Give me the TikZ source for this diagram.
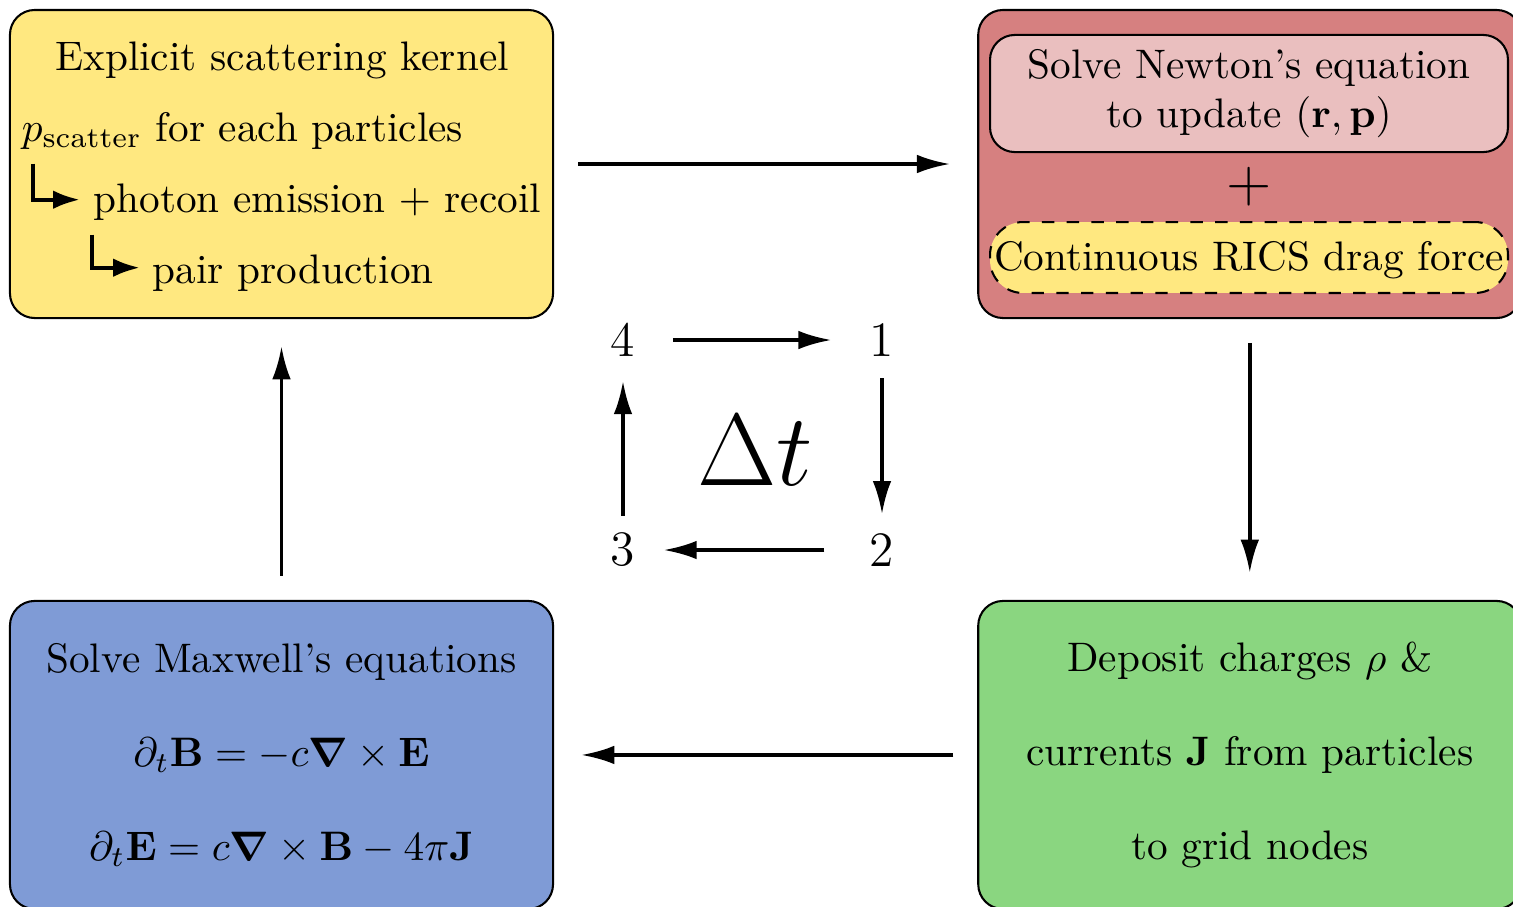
\documentclass[tikz,border=0pt]{standalone}
\usepackage{amsmath,amssymb}
\usepackage{tikz}
\usetikzlibrary{arrows.meta, positioning, calc}

\definecolor{kernelyellow}{RGB}{255,232,128}
\definecolor{pushred}{RGB}{214,128,128}
\definecolor{pushpink}{RGB}{234,191,191}
\definecolor{fieldblue}{RGB}{127,155,214}
\definecolor{depositgreen}{RGB}{138,214,128}

\tikzset{
  stage/.style={draw, line width=0.5pt, rounded corners=6pt, minimum width=131.7pt, minimum height=74.7pt, inner sep=0pt, align=center},
  subbox/.style={draw, line width=0.5pt, rounded corners=6pt, minimum width=125.6pt, inner sep=0pt, align=center},
  kerneltext/.style={inner sep=0pt},
  flow/.style={-{Latex[length=8pt,width=4.5pt]}, line width=0.85pt},
  branch/.style={-{Latex[length=6.5pt,width=4.5pt]}, line width=1pt},
}

\begin{document}
\begin{tikzpicture}[x=0.2425pt, y=-0.2425pt]
\useasboundingbox (0,0) rectangle (1513,906);

% four stages of one step
\node[stage, fill=kernelyellow] (kernel) at (281.5,164) {};
\node[stage, fill=pushred, right=102.6pt of kernel] (push) {};
\node[stage, fill=depositgreen, below=68.1pt of push] (deposit) {Deposit charges $\rho$ \&\\[10.8pt] currents $\mathbf{J}$ from particles\\[10.8pt] to grid nodes};
\node[stage, fill=fieldblue, below=68.1pt of kernel] (maxwell) {Solve Maxwell's equations\\[10.8pt] $\partial_t\mathbf{B}=-c\boldsymbol{\nabla}\times\mathbf{E}$\\[10.8pt] $\partial_t\mathbf{E}=c\boldsymbol{\nabla}\times\mathbf{B}-4\pi\mathbf{J}$};

% scattering kernel text
\node[kerneltext, anchor=base] (k1) at (282,70) {Explicit scattering kernel};
\node[kerneltext, anchor=base west] (k2) at (21,141) {$p_{\text{scatter}}$ for each particles};
\node[kerneltext, anchor=base west] (k3) at (93,212) {photon emission $+$ recoil};
\node[kerneltext, anchor=base west] (k4) at (152,283) {pair production};
\draw[branch] ($(k3.west)+(-60,-38)$) |- ($(k3.west)+(-13,-2)$);
\draw[branch] ($(k4.west)+(-60,-38)$) |- ($(k4.west)+(-12,-5)$);

% particle push
\node[subbox, fill=pushpink, minimum height=28.4pt] (newton) at (1249,93.5) {Solve Newton's equation\\to update $(\mathbf{r},\mathbf{p})$};
\node[font=\Large] (plus) at (1249,187) {$+$};
\node[subbox, dashed, fill=kernelyellow, minimum height=17.2pt, text height=8.4pt, rounded corners=8pt] (drag) at (1249,257.5) {Continuous RICS drag force};

\draw[flow, shorten <=5.8pt, shorten >=6.6pt] (kernel) -- (push);
\draw[flow, shorten <=5.8pt, shorten >=6.6pt] (push) -- (deposit);
\draw[flow, shorten <=5.8pt, shorten >=6.6pt] (deposit) -- (maxwell);
\draw[flow, shorten <=5.8pt, shorten >=6.6pt] (maxwell) -- (kernel);

% time step cycle
\node[font=\large] (s4) at (623,340) {4};
\node[font=\large] (s1) at (882,340) {1};
\node[font=\large] (s2) at (882,550) {2};
\node[font=\large] (s3) at (623,550) {3};
\node[font=\Huge] (dt) at (755,450) {$\Delta t$};
\draw[flow, shorten <=5.6pt, shorten >=5.8pt] (s4) -- (s1);
\draw[flow, shorten <=1.7pt, shorten >=1.2pt] (s1) -- (s2);
\draw[flow, shorten <=7.5pt, shorten >=3.4pt] (s2) -- (s3);
\draw[flow, shorten <=0.7pt, shorten >=2.4pt] (s3) -- (s4);
\end{tikzpicture}
\end{document}
